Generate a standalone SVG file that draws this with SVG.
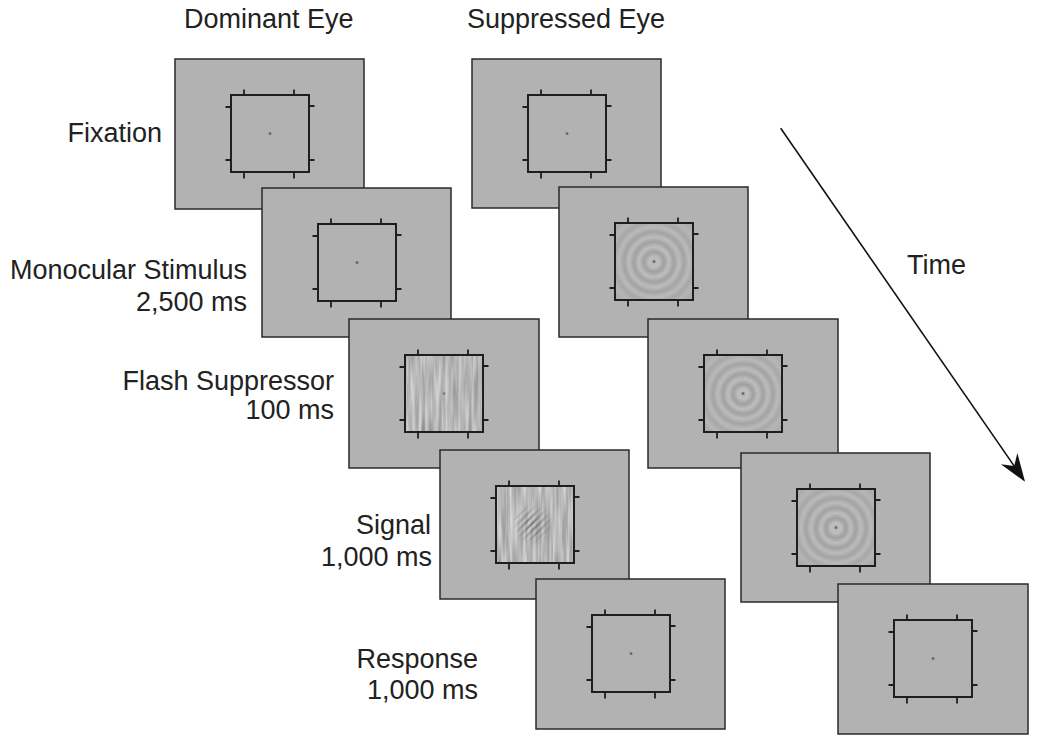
<svg xmlns="http://www.w3.org/2000/svg" width="1050" height="741" viewBox="0 0 1050 741">
  <style>
    .panel { fill: #b2b2b2; stroke: #2a2a2a; stroke-width: 1.5; }
    .sq { fill: none; stroke: #1e1e1e; stroke-width: 2; }
    .tick { stroke: #1e1e1e; stroke-width: 1.8; fill: none; }
    .dot { fill: #666666; }
    .lbl { font-family: "Liberation Sans", Arial, Helvetica, sans-serif; font-size: 27px; fill: #222222; }
    .arrow { stroke: #111111; stroke-width: 1.6; fill: none; }
  </style>
  <defs>
    <g id="ticks">
      <path class="tick" d="M69,30.5V36M119,30.5V36M69,114V119.5M119,114V119.5M50.5,48H56M50.5,101H56M134,47H139.5M134,101H139.5"/>
    </g>
    <radialGradient id="rings" gradientUnits="userSpaceOnUse" cx="95" cy="75" r="55">
      <stop offset="0" stop-color="#b4b4b4"/>
      <stop offset="0.0909" stop-color="#bfbfbf"/>
      <stop offset="0.1818" stop-color="#a0a0a0"/>
      <stop offset="0.2727" stop-color="#bebebe"/>
      <stop offset="0.3636" stop-color="#a1a1a1"/>
      <stop offset="0.4545" stop-color="#bcbcbc"/>
      <stop offset="0.5454" stop-color="#a3a3a3"/>
      <stop offset="0.6363" stop-color="#bababa"/>
      <stop offset="0.7272" stop-color="#a7a7a7"/>
      <stop offset="0.8181" stop-color="#b6b6b6"/>
      <stop offset="0.9090" stop-color="#acacac"/>
      <stop offset="1" stop-color="#b1b1b1"/>
    </radialGradient>
    <filter id="noise1" filterUnits="objectBoundingBox" x="0" y="0" width="1" height="1" color-interpolation-filters="sRGB">
      <feTurbulence type="fractalNoise" baseFrequency="0.3 0.02" numOctaves="2" seed="3"/>
      <feColorMatrix type="matrix" values="0.42 0 0 0 0.51  0.42 0 0 0 0.51  0.42 0 0 0 0.51  0 0 0 0 1"/>
    </filter>
    <filter id="noise2" filterUnits="objectBoundingBox" x="0" y="0" width="1" height="1" color-interpolation-filters="sRGB">
      <feTurbulence type="fractalNoise" baseFrequency="0.3 0.02" numOctaves="2" seed="11"/>
      <feColorMatrix type="matrix" values="0.42 0 0 0 0.51  0.42 0 0 0 0.51  0.42 0 0 0 0.51  0 0 0 0 1"/>
    </filter>
    <linearGradient id="gaborStripes" gradientUnits="userSpaceOnUse" x1="0" y1="0" x2="3.6" y2="3.6" spreadMethod="repeat">
      <stop offset="0" stop-color="#303030" stop-opacity="0.7"/>
      <stop offset="0.5" stop-color="#ffffff" stop-opacity="0.2"/>
      <stop offset="1" stop-color="#303030" stop-opacity="0.7"/>
    </linearGradient>
    <radialGradient id="gaborEnv" gradientUnits="userSpaceOnUse" cx="92" cy="74" r="20">
      <stop offset="0" stop-color="#ffffff" stop-opacity="1"/>
      <stop offset="0.5" stop-color="#ffffff" stop-opacity="0.45"/>
      <stop offset="1" stop-color="#ffffff" stop-opacity="0"/>
    </radialGradient>
    <mask id="gaborMask" maskUnits="userSpaceOnUse" x="56" y="36" width="78" height="78">
      <rect x="56" y="36" width="78" height="78" fill="url(#gaborEnv)"/>
    </mask>
    <marker id="arrowHead" markerUnits="userSpaceOnUse" viewBox="-30 -12 32 24" markerWidth="32" markerHeight="24" refX="-18" refY="0" orient="auto">
      <path d="M0,0 L-28,-10 L-19,0 L-28,10 Z" fill="#111111"/>
    </marker>
  </defs>

  <g id="headers">
    <text class="lbl" x="184" y="28">Dominant Eye</text>
    <text class="lbl" x="467" y="28">Suppressed Eye</text>
  </g>

  <g id="labels">
    <text class="lbl" x="162" y="142" text-anchor="end">Fixation</text>
    <text class="lbl" x="247" y="279" text-anchor="end">Monocular Stimulus</text>
    <text class="lbl" x="247" y="311" text-anchor="end">2,500 ms</text>
    <text class="lbl" x="334" y="390" text-anchor="end">Flash Suppressor</text>
    <text class="lbl" x="334" y="419" text-anchor="end">100 ms</text>
    <text class="lbl" x="431" y="534" text-anchor="end">Signal</text>
    <text class="lbl" x="432" y="566" text-anchor="end">1,000 ms</text>
    <text class="lbl" x="478" y="668" text-anchor="end">Response</text>
    <text class="lbl" x="478" y="699" text-anchor="end">1,000 ms</text>
    <text class="lbl" x="907" y="274">Time</text>
  </g>

  <!-- Dominant eye column -->
  <g id="dom-fixation" transform="translate(175,59)">
    <rect class="panel" width="189" height="150"/>
    <rect class="sq" x="56" y="36" width="78" height="77"/>
    <use href="#ticks"/>
    <rect class="dot" x="93.8" y="73.3" width="2.5" height="2.5"/>
  </g>
  <g id="dom-monocular" transform="translate(262,188)">
    <rect class="panel" width="189" height="149"/>
    <rect class="sq" x="56" y="36" width="78" height="77"/>
    <use href="#ticks"/>
    <rect class="dot" x="93.8" y="73.3" width="2.5" height="2.5"/>
  </g>
  <g id="dom-flash" transform="translate(349,319)">
    <rect class="panel" width="190" height="149"/>
    <rect x="56" y="36" width="78" height="77" fill="#b8b8b8" filter="url(#noise1)"/>
    <rect class="sq" x="56" y="36" width="78" height="77"/>
    <use href="#ticks"/>
    <rect class="dot" x="93.8" y="73.3" width="2.5" height="2.5" opacity="0.7"/>
  </g>
  <g id="dom-signal" transform="translate(440,450)">
    <rect class="panel" width="189" height="149"/>
    <rect x="56" y="36" width="78" height="77" fill="#b8b8b8" filter="url(#noise2)"/>
    <rect x="56" y="36" width="78" height="77" fill="url(#gaborStripes)" mask="url(#gaborMask)"/>
    <rect class="sq" x="56" y="36" width="78" height="77"/>
    <use href="#ticks"/>
  </g>
  <g id="dom-response" transform="translate(536,579)">
    <rect class="panel" width="189" height="150"/>
    <rect class="sq" x="56" y="36" width="78" height="77"/>
    <use href="#ticks"/>
    <rect class="dot" x="93.8" y="73.3" width="2.5" height="2.5"/>
  </g>

  <!-- Suppressed eye column -->
  <g id="sup-fixation" transform="translate(472,59)">
    <rect class="panel" width="189" height="149"/>
    <rect class="sq" x="56" y="36" width="78" height="77"/>
    <use href="#ticks"/>
    <rect class="dot" x="93.8" y="73.3" width="2.5" height="2.5"/>
  </g>
  <g id="sup-monocular" transform="translate(559,187)">
    <rect class="panel" width="189" height="150"/>
    <rect x="56" y="36" width="78" height="77" fill="url(#rings)"/>
    <rect class="sq" x="56" y="36" width="78" height="77"/>
    <use href="#ticks"/>
    <rect class="dot" x="93.8" y="73.3" width="2.5" height="2.5"/>
  </g>
  <g id="sup-flash" transform="translate(648,319)">
    <rect class="panel" width="190" height="149"/>
    <rect x="56" y="36" width="78" height="77" fill="url(#rings)"/>
    <rect class="sq" x="56" y="36" width="78" height="77"/>
    <use href="#ticks"/>
    <rect class="dot" x="93.8" y="73.3" width="2.5" height="2.5"/>
  </g>
  <g id="sup-signal" transform="translate(741,453)">
    <rect class="panel" width="189" height="149"/>
    <rect x="56" y="36" width="78" height="77" fill="url(#rings)"/>
    <rect class="sq" x="56" y="36" width="78" height="77"/>
    <use href="#ticks"/>
    <rect class="dot" x="93.8" y="73.3" width="2.5" height="2.5"/>
  </g>
  <g id="sup-response" transform="translate(838,584)">
    <rect class="panel" width="190" height="150"/>
    <rect class="sq" x="56" y="36" width="78" height="77"/>
    <use href="#ticks"/>
    <rect class="dot" x="93.8" y="73.3" width="2.5" height="2.5"/>
  </g>

  <g id="connectors">
    <line class="arrow" x1="780.7" y1="128.3" x2="1014.8" y2="466.9" marker-end="url(#arrowHead)"/>
  </g>
</svg>
